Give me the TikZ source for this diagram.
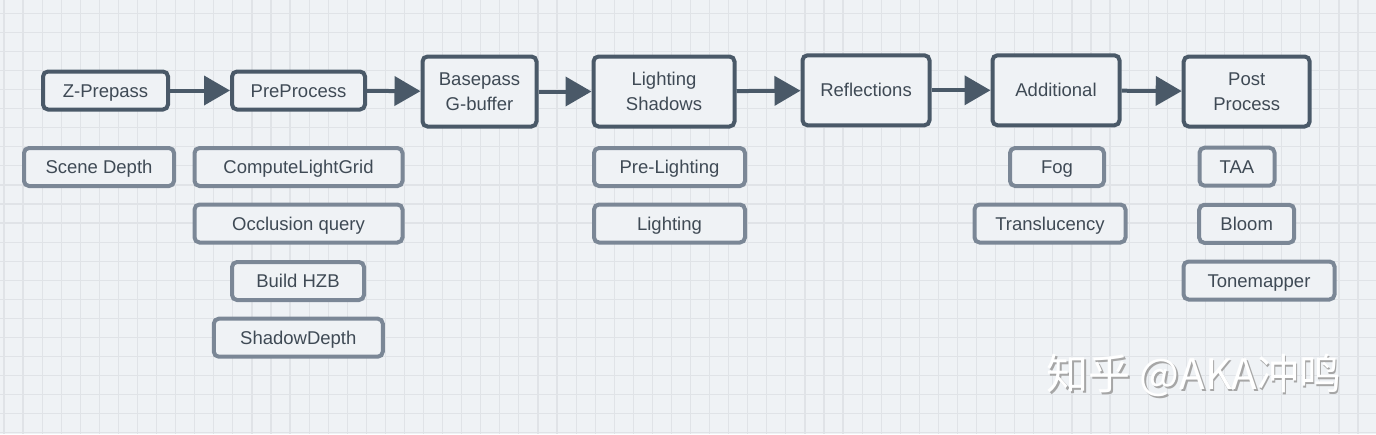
\documentclass[tikz,border=0pt]{standalone}
\usepackage{fontspec}
\usepackage{tikz}
\usetikzlibrary{arrows.meta}
\setmainfont{Liberation Sans}
\newfontfamily\cjk{Noto Sans CJK SC}
\definecolor{bgcol}{HTML}{EFF2F5}
\definecolor{gridcol}{HTML}{E0E3E7}
\definecolor{darkcol}{HTML}{4A5968}
\definecolor{lightcol}{HTML}{7B8796}
\definecolor{textcol}{HTML}{3F4A55}

\begin{document}
\begin{tikzpicture}[x=1pt,y=-1pt,
  stage/.style={draw=darkcol,line width=4pt,rounded corners=5pt,fill=bgcol,text=textcol,align=center,inner sep=0pt},
  oneline/.style={text height=17pt,text depth=3.7pt},
  task/.style={draw=lightcol,line width=4pt,rounded corners=5pt,fill=bgcol,text=textcol,align=center,inner sep=0pt,minimum height=38pt,oneline},
  flow/.style={darkcol,line width=4pt,-{Triangle[length=26pt,width=29pt]}}]
\fill[bgcol] (0,0) rectangle (1376,434);
\useasboundingbox (0,0) rectangle (1376,434);
\foreach \i in {0,...,71} \draw[gridcol,line width=1.2pt] (4+19.07*\i,0) -- (4+19.07*\i,434);
\foreach \j in {0,...,22} \draw[gridcol,line width=1.2pt] (0,13.3+19.07*\j) -- (1376,13.3+19.07*\j);

\begin{scope}[every node/.style={font=\fontsize{18.5}{24.5}\selectfont}]
\node[stage,oneline,minimum width=125pt,minimum height=38pt] (0) at (105.5,90.5) {Z-Prepass};
\node[stage,oneline,minimum width=133pt,minimum height=38pt] (1) at (298.5,90.5) {PreProcess};
\node[stage,minimum width=114pt,minimum height=70pt] (2) at (479.5,91.5) {Basepass\\G-buffer};
\node[stage,minimum width=141pt,minimum height=70pt] (3) at (664,91.5) {Lighting\\Shadows};
\node[stage,oneline,minimum width=127pt,minimum height=70pt] (4) at (866,90.3) {Reflections};
\node[stage,oneline,minimum width=127pt,minimum height=70pt] (5) at (1056,90.3) {Additional};
\node[stage,minimum width=126pt,minimum height=70pt] (6) at (1246.7,91.5) {Post\\Process};

\draw[flow] (0) -- (1);
\draw[flow] (1) -- (2);
\draw[flow] (2) -- (3);
\draw[flow] (3) -- (4);
\draw[flow] (4) -- (5);
\draw[flow] (5) -- (6);

\node[task,minimum width=150pt] (7) at (99,167) {Scene Depth};
\node[task,minimum width=208pt] (8) at (298.5,167) {ComputeLightGrid};
\node[task,minimum width=208pt] (9) at (298.5,223.5) {Occlusion query};
\node[task,minimum width=132pt] (10) at (298,281) {Build HZB};
\node[task,minimum width=169pt] (11) at (298.3,337.7) {ShadowDepth};
\node[task,minimum width=151pt] (12) at (669.5,167) {Pre-Lighting};
\node[task,minimum width=151pt] (13) at (669.5,223.5) {Lighting};
\node[task,minimum width=94pt] (14) at (1057,167) {Fog};
\node[task,minimum width=151pt] (15) at (1050,223.5) {Translucency};
\node[task,minimum width=75pt] (16) at (1237,166.7) {TAA};
\node[task,minimum width=95pt] (17) at (1246.7,223.8) {Bloom};
\node[task,minimum width=151pt] (18) at (1259,280.5) {Tonemapper};
\end{scope}

\node[text=gray!70,font=\cjk\fontsize{42}{44}\selectfont] at (1195.5,377) {知乎 @AKA冲鸣};
\node[text=white,font=\cjk\fontsize{42}{44}\selectfont] (19) at (1194,375.5) {知乎 @AKA冲鸣};
\end{tikzpicture}
\end{document}
